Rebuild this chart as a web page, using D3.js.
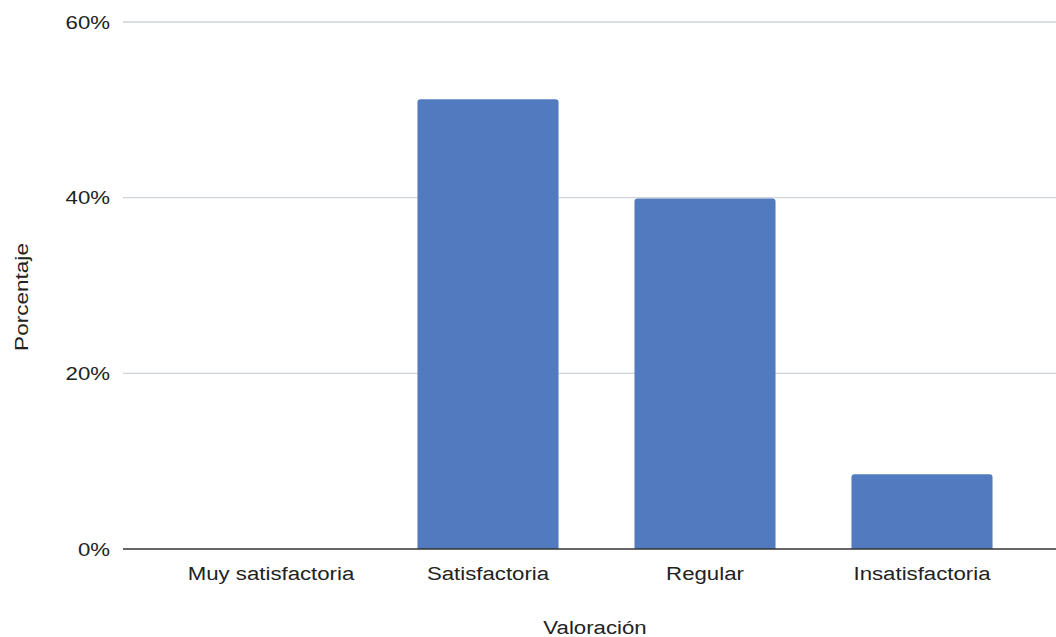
<!DOCTYPE html>
<html>
<head>
<meta charset="utf-8">
<script src="https://cdn.jsdelivr.net/npm/d3@7"></script>
<style>
  html, body { margin: 0; padding: 0; background: #fff; }
  svg { display: block; font-family: Arial, "Liberation Sans", sans-serif; }
</style>
</head>
<body>
<svg id="chart" width="1056" height="637"></svg>
<script>
// Survey results: share of answers per rating
const categories = ["Muy satisfactoria", "Satisfactoria", "Regular", "Insatisfactoria"];
const percentages = [0, 51.2, 39.9, 8.5];
const yTicks = [0, 20, 40, 60];
const xTitle = "Valoración";
const yTitle = "Porcentaje";

const svg = d3.select("#chart");
const stretch = 1.17; // wide letterforms
const textColor = "#222";
const fontSize = 19;

const x = d3.scaleBand()
  .domain(categories)
  .range([162.5, 1030.5])
  .paddingInner(0.35)
  .paddingOuter(0.175);

const y = d3.scaleLinear().domain([0, 60]).range([549, 22]);

// Horizontal gridlines
svg.append("g").selectAll("line")
  .data(yTicks.filter(d => d > 0))
  .join("line")
  .attr("x1", 123).attr("x2", 1056)
  .attr("y1", d => y(d)).attr("y2", d => y(d))
  .attr("stroke", "#cdd3d6").attr("stroke-width", 1.3);

// Y tick labels
svg.append("g").selectAll("text")
  .data(yTicks)
  .join("text")
  .attr("transform", d => `translate(110,${y(d)}) scale(${stretch},1)`)
  .attr("dy", "0.35em")
  .attr("text-anchor", "end")
  .attr("font-size", fontSize)
  .attr("fill", textColor)
  .text(d => d + "%");

// Bars with slightly rounded top corners
const r = 3;
svg.append("g").selectAll("path")
  .data(categories.map((c, i) => ({ c, v: percentages[i] })).filter(d => d.v > 0))
  .join("path")
  .attr("fill", "#527bbf")
  .attr("d", d => {
    const x0 = x(d.c), x1 = x0 + x.bandwidth();
    const y0 = y(0), y1 = y(d.v);
    return `M${x0},${y0} L${x0},${y1 + r} Q${x0},${y1} ${x0 + r},${y1} L${x1 - r},${y1} Q${x1},${y1} ${x1},${y1 + r} L${x1},${y0} Z`;
  });

// Baseline
svg.append("line")
  .attr("x1", 123).attr("x2", 1056)
  .attr("y1", y(0)).attr("y2", y(0))
  .attr("stroke", "#333").attr("stroke-width", 1.6);

// X category labels
svg.append("g").selectAll("text")
  .data(categories)
  .join("text")
  .attr("transform", d => `translate(${x(d) + x.bandwidth() / 2},580) scale(${stretch},1)`)
  .attr("text-anchor", "middle")
  .attr("font-size", fontSize)
  .attr("fill", textColor)
  .text(d => d);

// Axis titles
svg.append("text")
  .attr("transform", `translate(595,634) scale(${stretch},1)`)
  .attr("text-anchor", "middle")
  .attr("font-size", fontSize)
  .attr("fill", textColor)
  .text(xTitle);

svg.append("text")
  .attr("transform", `translate(27.5,297) rotate(-90) scale(1.22,1)`)
  .attr("text-anchor", "middle")
  .attr("font-size", 18.5)
  .attr("fill", textColor)
  .text(yTitle);
</script>
</body>
</html>
